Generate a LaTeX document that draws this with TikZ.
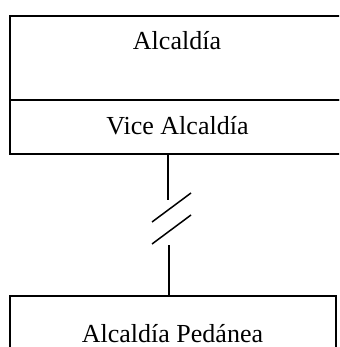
\documentclass[tikz,border=0pt]{standalone}
\usepackage{fontspec}
\setmainfont{Liberation Serif}
\begin{document}
\begin{tikzpicture}[x=1pt,y=-1pt,
  box/.style={draw, line width=1.6pt, inner sep=0pt, anchor=north west},
  lbl/.style={inner sep=0pt, anchor=base, font=\fontsize{26}{31}\selectfont},
  conn/.style={line width=1.5pt}]
\useasboundingbox (0,0) rectangle (339,347);
\begin{scope}
\clip (0,0) rectangle (339,347);
\node[box, minimum width=336pt, minimum height=84pt] (alc) at (9,15) {};
\node[box, minimum width=336pt, minimum height=54pt] (vice) at (9,99) {};
\node[box, minimum width=326pt, minimum height=70pt] (ped) at (9,295) {};
\end{scope}
\node[lbl] (talc) at (177,50) {Alcaldía};
\node[lbl] (tvice) at (177.5,135) {Vice Alcaldía};
\node[lbl] (tped) at (172.5,342) {Alcaldía Pedánea};
\coordinate (c1) at (168,200);
\coordinate (c2) at (169,245);
\draw[conn] (vice.south -| c1) -- (c1);
\draw[conn] (c2) -- (c2 |- ped.north);
\draw[conn] (152,222) -- (191,193);
\draw[conn] (152,244) -- (191,215);
\end{tikzpicture}
\end{document}
